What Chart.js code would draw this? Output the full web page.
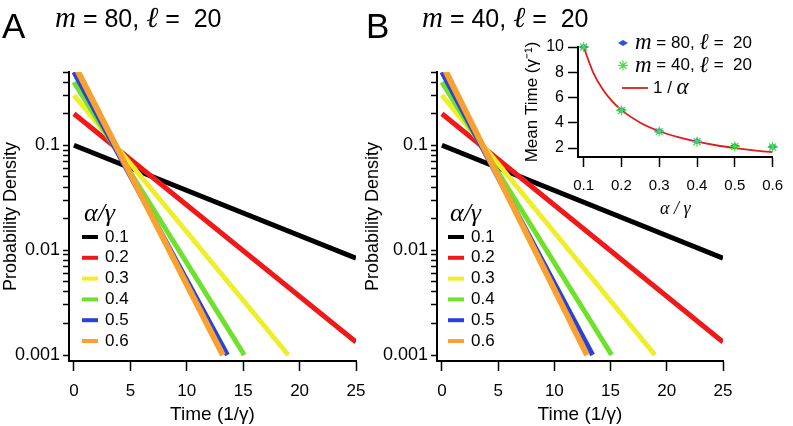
<!DOCTYPE html>
<html>
<head>
<meta charset="utf-8">
<script src="https://cdn.jsdelivr.net/npm/chart.js@4.4.1/dist/chart.umd.min.js"></script>
<style>
  body { margin: 0; background: #fff; }
  #page { position: relative; width: 793px; height: 426px; overflow: hidden; font-family: "Liberation Sans", Arial, sans-serif; color: #000; }
  canvas { position: absolute; }
  .panel { position: absolute; font-size: 35px; line-height: 1; }
  .ttl { position: absolute; font-size: 25px; line-height: 1; white-space: pre; }
  .ttl .it { font-family: "Liberation Serif", serif; font-style: italic; font-size: 29px; }
</style>
</head>
<body>
<div id="page">
  <canvas id="chartA" width="395" height="426" style="left:0;top:0"></canvas>
  <canvas id="chartB" width="433" height="426" style="left:360px;top:0"></canvas>
  <canvas id="chartInset" width="288" height="206" style="left:505px;top:20px"></canvas>
  <div class="panel" style="left:2px;top:8px">A</div>
  <div class="panel" style="left:366px;top:8px">B</div>
  <div class="ttl" style="left:55px;top:3px"><span class="it">m</span> = 80, <span class="it">ℓ</span> =  20</div>
  <div class="ttl" style="left:422px;top:3px"><span class="it">m</span> = 40, <span class="it">ℓ</span> =  20</div>
</div>
<script>
// values (straight lines on a log axis -> start and end point)
const alphaLabels = ['0.1', '0.2', '0.3', '0.4', '0.5', '0.6'];
const lineColors = ['#000000', '#f01818', '#eeee2a', '#6ee22a', '#2a40dc', '#f8a030'];
const startTime = [0, 0, 0, 0, 0, 0];
const startDensity = [0.1, 0.2, 0.3, 0.4, 0.5, 0.6];
const endTimeA = [25, 25, 19.0, 15.1, 13.6, 13.2];
const endDensityA = [0.0084, 0.00133, 0.001, 0.001, 0.001, 0.001];
const endTimeB = [25, 25, 18.95, 15.1, 13.4, 12.9];
const endDensityB = [0.0084, 0.00133, 0.001, 0.001, 0.001, 0.001];

const timeTicks = [0, 5, 10, 15, 20, 25];
const densityDecades = [0.001, 0.01, 0.1];
const densityTicks = [0.001, 0.002, 0.003, 0.004, 0.005, 0.006, 0.007, 0.008, 0.009,
                      0.01, 0.02, 0.03, 0.04, 0.05, 0.06, 0.07, 0.08, 0.09,
                      0.1, 0.2, 0.3, 0.4, 0.5];

// inset: mean time vs alpha
const insetAlpha = [0.1, 0.2, 0.3, 0.4, 0.5, 0.6];
const meanTime80 = [10, 5.0, 3.32, 2.52, 2.16, 2.1];
const meanTime40 = [10, 4.97, 3.3, 2.5, 2.13, 2.08];
const curveAlpha = [0.1, 0.125, 0.15, 0.175, 0.2, 0.25, 0.3, 0.35, 0.4, 0.45, 0.5, 0.55, 0.6];
const curveTime = [10, 8, 6.67, 5.71, 5, 4, 3.33, 2.86, 2.5, 2.22, 2, 1.82, 1.67];
const insetXTicks = [0.1, 0.2, 0.3, 0.4, 0.5, 0.6];
const insetYTicks = [2, 4, 6, 8, 10];

Chart.defaults.font.family = '"Liberation Sans", Arial, sans-serif';
Chart.defaults.color = '#000';

// flat blue diamond used as point style
const diamond = document.createElement('canvas');
diamond.width = 10; diamond.height = 6;
(function () {
  const c = diamond.getContext('2d');
  c.fillStyle = '#2a50e0';
  c.beginPath();
  c.moveTo(0, 3); c.lineTo(5, 0); c.lineTo(10, 3); c.lineTo(5, 6);
  c.closePath(); c.fill();
})();

function drawParts(ctx, parts, x, y, size, itSize) {
  parts.forEach(p => {
    ctx.font = p[1] ? 'italic ' + itSize + 'px "Liberation Serif"' : size + 'px "Liberation Sans"';
    ctx.fillText(p[0], x, y);
    x += ctx.measureText(p[0]).width;
  });
}

function drawStar(ctx, x, y, r, color) {
  ctx.strokeStyle = color;
  ctx.lineWidth = 1.2;
  ctx.beginPath();
  for (let k = 0; k < 4; k++) {
    const a = k * Math.PI / 4;
    ctx.moveTo(x - r * Math.cos(a), y - r * Math.sin(a));
    ctx.lineTo(x + r * Math.cos(a), y + r * Math.sin(a));
  }
  ctx.stroke();
}

// legend drawn inside the plot area
const inPlotLegend = {
  id: 'inPlotLegend',
  afterDraw(chart, args, o) {
    if (!o.rows) return;
    const ctx = chart.ctx;
    ctx.save();
    ctx.textBaseline = 'middle';
    ctx.fillStyle = '#000';
    if (o.title) drawParts(ctx, o.title, o.titleX, o.titleY, o.size, o.titleSize);
    o.rows.forEach((row, i) => {
      const ds = chart.data.datasets[row.ds];
      const y = o.y0 + i * o.step;
      let tx = o.textX;
      if (row.kind === 'line') {
        ctx.strokeStyle = ds.borderColor;
        ctx.lineWidth = o.lineW;
        ctx.beginPath();
        ctx.moveTo(o.lineX0, y); ctx.lineTo(o.lineX1, y);
        ctx.stroke();
        tx = o.lineTextX;
      } else if (row.kind === 'diamond') {
        ctx.drawImage(diamond, o.markX - 5, y - 3);
      } else if (row.kind === 'star') {
        drawStar(ctx, o.markX, y, 5, ds.pointBorderColor);
      }
      ctx.fillStyle = '#000';
      drawParts(ctx, row.parts, tx, y, o.size, o.itSize);
    });
    ctx.restore();
  }
};

function makePanel(id, endT, endD, yWidth, titlePad, legendX) {
  const datasets = alphaLabels.map((lab, i) => ({
    label: lab,
    data: [{ x: startTime[i], y: startDensity[i] }, { x: endT[i], y: endD[i] }],
    borderColor: lineColors[i],
    borderWidth: i === 5 ? 6 : 5,
    pointRadius: 0,
    order: 6 - i
  }));
  new Chart(document.getElementById(id).getContext('2d'), {
    type: 'line',
    data: { datasets: datasets },
    options: {
      responsive: false,
      animation: false,
      layout: { padding: { top: 72, right: id === 'chartA' ? 39 : 70, left: 0, bottom: 0 } },
      scales: {
        x: {
          type: 'linear', min: -0.44, max: 25,
          afterBuildTicks: s => { s.ticks = timeTicks.map(v => ({ value: v })); },
          afterFit: s => { s.height = 65; },
          ticks: { autoSkip: false, maxRotation: 0, padding: 10, font: { size: 17 } },
          grid: { drawOnChartArea: false, tickLength: 10, tickColor: '#000', tickWidth: 1.5 },
          border: { color: '#000', width: 2 },
          title: { display: true, text: 'Time (1/γ)', font: { size: 19 }, padding: { top: 0, bottom: 0 } }
        },
        y: {
          type: 'logarithmic', min: 0.000877, max: 0.5,
          afterBuildTicks: s => { s.ticks = densityTicks.map(v => ({ value: v })); },
          afterFit: s => { s.width = yWidth; },
          ticks: {
            autoSkip: false, padding: 3, font: { size: 18 },
            callback: v => densityDecades.includes(v) ? String(v) : ''
          },
          grid: { drawOnChartArea: false, tickLength: 6, tickColor: '#000', tickWidth: 1.5 },
          border: { color: '#000', width: 2 },
          title: { display: true, text: 'Probability Density', font: { size: 18 }, padding: { top: titlePad, bottom: 0 } }
        }
      },
      plugins: {
        legend: { display: false },
        tooltip: { enabled: false },
        inPlotLegend: {
          title: [['α/γ', true]], titleX: legendX + 2, titleY: 214, titleSize: 26,
          size: 17, itSize: 26,
          y0: 237, step: 20.8, lineW: 4,
          lineX0: legendX, lineX1: legendX + 16, lineTextX: legendX + 23,
          rows: alphaLabels.map((lab, i) => ({ ds: i, kind: 'line', parts: [[lab, false]] }))
        }
      }
    },
    plugins: [inPlotLegend]
  });
}

makePanel('chartA', endTimeA, endDensityA, 69, 0, 82);
makePanel('chartB', endTimeB, endDensityB, 77, 2, 88);

new Chart(document.getElementById('chartInset').getContext('2d'), {
  type: 'line',
  data: {
    datasets: [
      {
        label: '1 / α',
        data: curveAlpha.map((a, i) => ({ x: a, y: curveTime[i] })),
        borderColor: '#e31a1c', borderWidth: 1.8, pointRadius: 0,
        cubicInterpolationMode: 'monotone', order: 3
      },
      {
        label: 'm = 80, ℓ = 20',
        data: insetAlpha.map((a, i) => ({ x: a, y: meanTime80[i] })),
        showLine: false, pointStyle: diamond, pointRadius: 4, clip: false, order: 2
      },
      {
        label: 'm = 40, ℓ = 20',
        data: insetAlpha.map((a, i) => ({ x: a, y: meanTime40[i] })),
        showLine: false, pointStyle: 'star', pointRadius: 5,
        pointBorderColor: '#44dd44', pointBorderWidth: 1.2, clip: false, order: 1
      }
    ]
  },
  options: {
    responsive: false,
    animation: false,
    layout: { padding: { top: 27, right: 11, left: 0, bottom: 0 } },
    scales: {
      x: {
        type: 'linear', min: 0.085, max: 0.6,
        afterBuildTicks: s => { s.ticks = insetXTicks.map(v => ({ value: v })); },
        afterFit: s => { s.height = 69; },
        ticks: { autoSkip: false, maxRotation: 0, padding: 10, font: { size: 15 }, callback: v => v.toFixed(1) },
        grid: { drawOnChartArea: false, tickLength: 10, tickColor: '#000', tickWidth: 1.5 },
        border: { color: '#000', width: 2 },
        title: { display: true, text: 'α / γ', font: { size: 18, style: 'italic', family: '"Liberation Serif", serif' }, padding: { top: 0, bottom: 6 } }
      },
      y: {
        min: 1.29, max: 10,
        afterBuildTicks: s => { s.ticks = insetYTicks.map(v => ({ value: v })); },
        afterFit: s => { s.width = 73; },
        ticks: { autoSkip: false, padding: 4, font: { size: 16 } },
        grid: { drawOnChartArea: false, tickLength: 10, tickColor: '#000', tickWidth: 1.5 },
        border: { color: '#000', width: 2 },
        title: { display: true, text: 'Mean Time (γ⁻¹)', font: { size: 17 }, padding: { top: 17, bottom: 0 } }
      }
    },
    plugins: {
      legend: { display: false },
      tooltip: { enabled: false },
      inPlotLegend: {
        size: 17, itSize: 23,
        y0: 23, step: 22.5, lineW: 1.8,
        markX: 118, textX: 130,
        lineX0: 117, lineX1: 143, lineTextX: 148,
        rows: [
          { ds: 1, kind: 'diamond', parts: [['m', true], [' = 80, ', false], ['ℓ', true], [' =  20', false]] },
          { ds: 2, kind: 'star', parts: [['m', true], [' = 40, ', false], ['ℓ', true], [' =  20', false]] },
          { ds: 0, kind: 'line', parts: [['1 / ', false], ['α', true]] }
        ]
      }
    }
  },
  plugins: [inPlotLegend]
});
</script>
</body>
</html>
